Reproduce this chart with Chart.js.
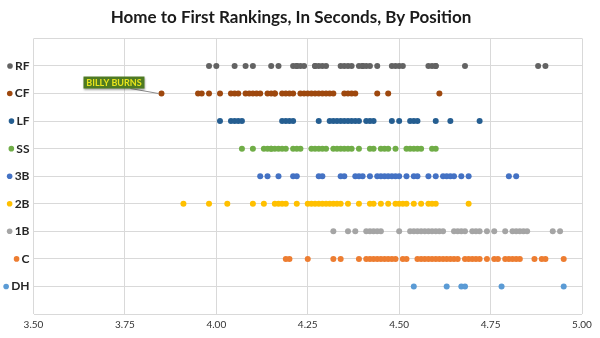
<!DOCTYPE html>
<html>
<head>
<meta charset="utf-8">
<script src="https://cdn.jsdelivr.net/npm/chart.js@4.4.1/dist/chart.umd.min.js"></script>
<style>
  html, body { margin: 0; background: #fff; }
  #wrap { width: 600px; height: 338px; }
</style>
</head>
<body>
<div id="wrap"><canvas id="chart"></canvas></div>
<script>
// rows, top to bottom
const positions = ['RF', 'CF', 'LF', 'SS', '3B', '2B', '1B', 'C', 'DH'];
const colors = ['#636363', '#9e480e', '#255e91', '#70ad47', '#4472c4', '#ffc000', '#a5a5a5', '#ed7d31', '#5b9bd5'];
const xTicks = [3.50, 3.75, 4.00, 4.25, 4.50, 4.75, 5.00];

// home-to-first times (seconds)
const rfTimes = [3.98, 4.00, 4.05, 4.08, 4.10, 4.15, 4.17, 4.21, 4.22, 4.22, 4.23, 4.24, 4.27, 4.27, 4.28, 4.29, 4.30, 4.34, 4.35, 4.36, 4.37, 4.39, 4.40, 4.40, 4.41, 4.42, 4.44, 4.48, 4.49, 4.50, 4.51, 4.58, 4.59, 4.60, 4.60, 4.68, 4.88, 4.90];
const cfTimes = [3.85, 3.95, 3.96, 3.98, 4.01, 4.04, 4.05, 4.06, 4.08, 4.09, 4.10, 4.11, 4.12, 4.14, 4.15, 4.16, 4.16, 4.18, 4.19, 4.20, 4.21, 4.23, 4.24, 4.25, 4.26, 4.27, 4.28, 4.29, 4.30, 4.31, 4.32, 4.35, 4.36, 4.37, 4.38, 4.44, 4.47, 4.61];
const lfTimes = [4.01, 4.04, 4.05, 4.06, 4.07, 4.18, 4.19, 4.20, 4.21, 4.28, 4.31, 4.32, 4.33, 4.34, 4.35, 4.36, 4.37, 4.38, 4.39, 4.41, 4.42, 4.43, 4.48, 4.50, 4.53, 4.54, 4.55, 4.60, 4.64, 4.72];
const ssTimes = [4.07, 4.10, 4.13, 4.14, 4.15, 4.15, 4.16, 4.17, 4.18, 4.19, 4.21, 4.22, 4.23, 4.26, 4.27, 4.28, 4.29, 4.30, 4.32, 4.33, 4.34, 4.35, 4.36, 4.37, 4.39, 4.42, 4.43, 4.45, 4.46, 4.47, 4.49, 4.52, 4.53, 4.54, 4.55, 4.56, 4.59, 4.60];
const thirdTimes = [4.12, 4.14, 4.17, 4.21, 4.22, 4.28, 4.29, 4.34, 4.35, 4.38, 4.39, 4.40, 4.42, 4.44, 4.45, 4.46, 4.47, 4.48, 4.49, 4.50, 4.52, 4.54, 4.55, 4.58, 4.60, 4.62, 4.63, 4.64, 4.65, 4.67, 4.69, 4.80, 4.82];
const secondTimes = [3.91, 3.98, 4.03, 4.10, 4.13, 4.16, 4.17, 4.18, 4.19, 4.22, 4.25, 4.26, 4.27, 4.28, 4.29, 4.30, 4.31, 4.32, 4.33, 4.34, 4.36, 4.39, 4.42, 4.43, 4.45, 4.47, 4.49, 4.50, 4.51, 4.52, 4.54, 4.56, 4.58, 4.59, 4.60, 4.69];
const firstTimes = [4.32, 4.36, 4.38, 4.41, 4.42, 4.43, 4.44, 4.45, 4.50, 4.53, 4.54, 4.55, 4.56, 4.57, 4.58, 4.59, 4.60, 4.61, 4.62, 4.65, 4.66, 4.67, 4.68, 4.70, 4.71, 4.72, 4.74, 4.76, 4.79, 4.81, 4.82, 4.83, 4.84, 4.85, 4.92, 4.94];
const catcherTimes = [4.19, 4.20, 4.25, 4.32, 4.34, 4.39, 4.41, 4.42, 4.43, 4.44, 4.45, 4.46, 4.47, 4.48, 4.49, 4.51, 4.52, 4.55, 4.56, 4.57, 4.58, 4.59, 4.60, 4.61, 4.62, 4.63, 4.64, 4.65, 4.66, 4.68, 4.69, 4.70, 4.71, 4.72, 4.74, 4.76, 4.77, 4.79, 4.80, 4.81, 4.82, 4.83, 4.87, 4.89, 4.90, 4.95];
const dhTimes = [4.54, 4.63, 4.67, 4.68, 4.78, 4.95];

const times = [rfTimes, cfTimes, lfTimes, ssTimes, thirdTimes, secondTimes, firstTimes, catcherTimes, dhTimes];

// callout
const calloutText = 'BILLY BURNS';
const calloutRow = 'CF';
const calloutTime = 3.85;

const rowValue = name => positions.length - positions.indexOf(name);

const datasets = positions.map((pos, i) => ({
  label: pos,
  data: times[i].map(t => ({ x: t, y: rowValue(pos) })),
  backgroundColor: colors[i],
  borderColor: colors[i],
  pointRadius: 3,
  pointBorderWidth: 0
}));

const FONT = 'Lato, "Open Sans", sans-serif';

// colored dots in front of the row labels
const rowDots = {
  id: 'rowDots',
  afterDraw(chart) {
    const { ctx, chartArea } = chart;
    const y = chart.scales.y;
    ctx.save();
    ctx.font = 'bold 12px ' + FONT;
    positions.forEach((pos, i) => {
      const py = y.getPixelForValue(rowValue(pos));
      const w = ctx.measureText(pos).width;
      const cx = chartArea.left - 4 - w - 5;
      ctx.fillStyle = colors[i];
      ctx.beginPath();
      ctx.arc(cx, py, 2.8, 0, Math.PI * 2);
      ctx.fill();
    });
    ctx.restore();
  }
};

const callout = {
  id: 'callout',
  afterDatasetsDraw(chart) {
    const { ctx } = chart;
    const px = chart.scales.x.getPixelForValue(calloutTime);
    const py = chart.scales.y.getPixelForValue(rowValue(calloutRow));
    const bw = 61, bh = 12;
    const bx = px - 78, by = py - 17;
    ctx.save();
    ctx.strokeStyle = '#8c8c8c';
    ctx.lineWidth = 1;
    ctx.beginPath();
    ctx.moveTo(bx + bw - 14, by + bh);
    ctx.lineTo(px - 3, py);
    ctx.stroke();
    ctx.shadowColor = 'rgba(0,0,0,0.35)';
    ctx.shadowOffsetX = 1;
    ctx.shadowOffsetY = 1;
    ctx.shadowBlur = 2;
    ctx.fillStyle = '#4e7a22';
    ctx.fillRect(bx, by, bw, bh);
    ctx.shadowColor = 'transparent';
    ctx.fillStyle = '#e8e41c';
    ctx.font = 'bold 9px ' + FONT;
    ctx.textAlign = 'center';
    ctx.textBaseline = 'middle';
    ctx.fillText(calloutText, bx + bw / 2, by + bh / 2 + 0.5);
    ctx.restore();
  }
};

new Chart(document.getElementById('chart'), {
  type: 'scatter',
  data: { datasets },
  options: {
    responsive: true,
    maintainAspectRatio: false,
    animation: false,
    layout: { padding: { left: 0, right: 18, top: 0, bottom: 0 } },
    plugins: {
      legend: { display: false },
      tooltip: { enabled: false },
      title: {
        display: true,
        text: 'Home to First Rankings, In Seconds, By Position',
        color: '#1a1a1a',
        font: { family: FONT, size: 17, weight: 'bold' },
        padding: { top: 7, bottom: 11 }
      }
    },
    scales: {
      x: {
        type: 'linear',
        min: 3.5,
        max: 5.0,
        afterBuildTicks: scale => { scale.ticks = xTicks.map(v => ({ value: v })); },
        afterFit: scale => { scale.height = 24; },
        border: { display: false },
        grid: { color: '#d9d9d9', drawTicks: false },
        ticks: {
          padding: 5,
          color: '#333333',
          font: { family: FONT, size: 10 },
          callback: v => Number(v).toFixed(2)
        }
      },
      y: {
        type: 'linear',
        min: 0,
        max: positions.length + 1,
        afterFit: scale => { scale.width = 33.5; },
        border: { display: false },
        grid: { color: '#d9d9d9', drawTicks: false },
        ticks: {
          stepSize: 1,
          padding: 4,
          color: '#262626',
          font: { family: FONT, size: 12, weight: 'bold' },
          callback: v => {
            const i = positions.length - v;
            return (i >= 0 && i < positions.length) ? positions[i] : '';
          }
        }
      }
    }
  },
  plugins: [rowDots, callout]
});
</script>
</body>
</html>
